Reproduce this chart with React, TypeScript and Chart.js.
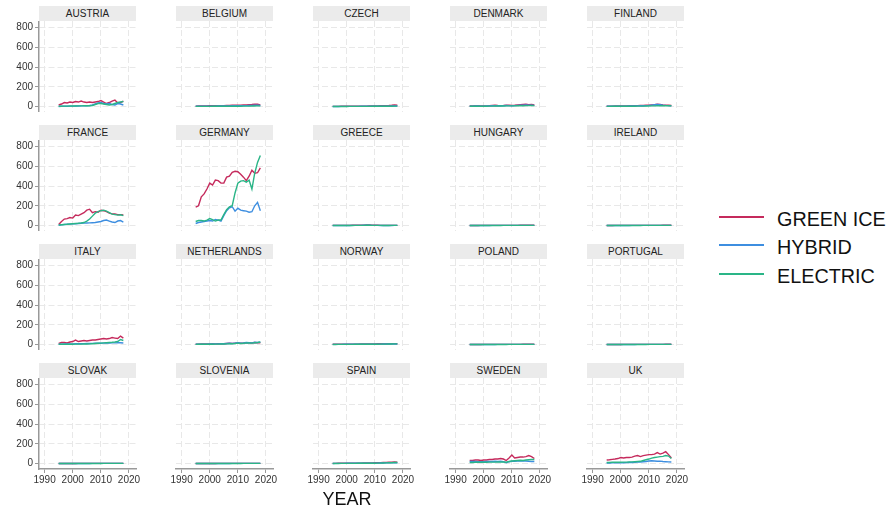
import React, { useEffect, useRef } from "react";
import { Chart, registerables } from "chart.js";

Chart.register(...registerables);

// ---------- data ----------
const YEARS = [1995, 1996, 1997, 1998, 1999, 2000, 2001, 2002, 2003, 2004, 2005, 2006, 2007, 2008, 2009, 2010, 2011, 2012, 2013, 2014, 2015, 2016, 2017, 2018];
const X_TICKS = [1990, 2000, 2010, 2020];
const Y_TICKS = [0, 200, 400, 600, 800];
const SERIES_LABELS = ["GREEN ICE", "HYBRID", "ELECTRIC"];
const COUNTRIES = [
  "AUSTRIA", "BELGIUM", "CZECH", "DENMARK", "FINLAND",
  "FRANCE", "GERMANY", "GREECE", "HUNGARY", "IRELAND",
  "ITALY", "NETHERLANDS", "NORWAY", "POLAND", "PORTUGAL",
  "SLOVAK", "SLOVENIA", "SPAIN", "SWEDEN", "UK",
];

const AUSTRIA_ICE = [15, 25, 40, 35, 45, 40, 50, 45, 55, 45, 40, 45, 40, 45, 50, 60, 45, 30, 40, 55, 65, 35, 40, 55];
const AUSTRIA_HYB = [0, 2, 3, 3, 4, 4, 5, 5, 6, 6, 8, 10, 15, 25, 35, 40, 30, 25, 30, 20, 15, 30, 25, 15];
const AUSTRIA_ELE = [3, 3, 4, 4, 5, 5, 5, 6, 6, 7, 7, 8, 10, 20, 30, 30, 25, 20, 15, 20, 30, 40, 45, 50];

const BELGIUM_ICE = [4, 5, 5, 6, 6, 7, 7, 8, 8, 9, 9, 10, 11, 12, 12, 13, 14, 15, 16, 18, 20, 24, 22, 16];
const BELGIUM_HYB = [2, 2, 3, 3, 3, 4, 4, 4, 5, 5, 5, 6, 6, 7, 7, 8, 8, 9, 9, 10, 11, 12, 12, 10];
const BELGIUM_ELE = [1, 1, 1, 1, 1, 1, 2, 2, 2, 2, 2, 2, 3, 3, 3, 3, 3, 4, 4, 4, 5, 5, 6, 6];

const CZECH_ICE = [1, 1, 1, 2, 2, 2, 2, 3, 3, 3, 3, 4, 4, 5, 5, 6, 6, 7, 8, 9, 10, 12, 15, 13];
const CZECH_HYB = [0, 0, 0, 1, 1, 1, 1, 1, 1, 1, 2, 2, 2, 2, 2, 3, 3, 3, 3, 4, 4, 5, 6, 5];
const CZECH_ELE = [0, 0, 0, 0, 0, 0, 1, 1, 1, 1, 1, 1, 1, 1, 2, 2, 2, 2, 2, 3, 3, 3, 4, 4];

const DENMARK_ICE = [5, 6, 8, 7, 6, 5, 6, 8, 10, 12, 10, 9, 11, 14, 12, 10, 12, 15, 18, 20, 22, 18, 20, 15];
const DENMARK_HYB = [3, 4, 5, 5, 4, 4, 5, 6, 7, 8, 7, 7, 8, 10, 9, 8, 9, 11, 13, 14, 15, 13, 14, 11];
const DENMARK_ELE = [2, 2, 3, 3, 3, 3, 3, 4, 4, 5, 5, 5, 5, 6, 6, 6, 6, 7, 8, 8, 9, 9, 10, 9];

const FINLAND_ICE = [3, 4, 4, 5, 5, 5, 6, 6, 7, 8, 8, 9, 10, 10, 12, 14, 16, 18, 22, 20, 16, 14, 12, 10];
const FINLAND_HYB = [2, 2, 3, 3, 3, 4, 4, 4, 5, 5, 6, 6, 7, 8, 9, 11, 14, 17, 20, 18, 14, 11, 9, 8];
const FINLAND_ELE = [1, 1, 2, 2, 2, 2, 2, 3, 3, 3, 3, 4, 4, 4, 5, 5, 6, 6, 7, 7, 7, 7, 8, 8];

const FRANCE_ICE = [10, 40, 65, 70, 80, 75, 105, 100, 115, 130, 155, 165, 130, 140, 135, 155, 150, 140, 125, 118, 118, 110, 110, 108];
const FRANCE_HYB = [3, 6, 10, 12, 14, 16, 18, 20, 22, 24, 25, 26, 28, 30, 35, 40, 50, 55, 45, 35, 30, 45, 50, 35];
const FRANCE_ELE = [5, 8, 10, 12, 15, 18, 20, 22, 25, 30, 45, 65, 95, 125, 140, 150, 155, 145, 130, 115, 110, 105, 108, 100];

const GERMANY_ICE = [185, 200, 290, 320, 370, 430, 410, 460, 455, 430, 430, 490, 500, 540, 550, 545, 520, 490, 455, 500, 560, 530, 535, 585];
const GERMANY_HYB = [20, 30, 35, 40, 45, 50, 45, 60, 55, 45, 100, 150, 180, 190, 145, 175, 155, 150, 145, 135, 140, 200, 235, 150];
const GERMANY_ELE = [40, 50, 50, 45, 55, 70, 60, 45, 55, 55, 110, 160, 190, 200, 330, 430, 450, 455, 440, 460, 370, 530, 640, 710];

const GREECE_ICE = [1, 1, 1, 1, 1, 1, 1, 2, 2, 2, 3, 4, 6, 5, 3, 2, 2, 1, 1, 1, 1, 1, 1, 1];
const GREECE_HYB = [0, 0, 0, 0, 0, 0, 0, 1, 1, 1, 1, 2, 3, 2, 1, 1, 1, 0, 0, 0, 0, 0, 1, 1];
const GREECE_ELE = [0, 0, 0, 0, 0, 0, 0, 0, 1, 1, 1, 1, 2, 2, 1, 1, 1, 1, 0, 0, 0, 1, 1, 1];

const HUNGARY_ICE = [0, 0, 0, 0, 1, 1, 1, 1, 1, 1, 1, 1, 1, 1, 1, 1, 1, 1, 2, 2, 2, 2, 2, 2];
const HUNGARY_HYB = [0, 0, 0, 0, 0, 0, 0, 0, 1, 1, 1, 1, 1, 1, 1, 1, 1, 1, 1, 1, 1, 1, 1, 1];
const HUNGARY_ELE = [0, 0, 0, 0, 0, 0, 0, 0, 0, 0, 0, 0, 1, 1, 1, 1, 1, 1, 1, 1, 1, 1, 1, 1];

const IRELAND_ICE = [0, 0, 0, 1, 1, 1, 1, 1, 1, 1, 1, 1, 1, 1, 1, 1, 1, 1, 1, 1, 2, 2, 2, 2];
const IRELAND_HYB = [0, 0, 0, 0, 0, 0, 0, 0, 0, 1, 1, 1, 1, 1, 1, 1, 1, 1, 1, 1, 1, 1, 1, 1];
const IRELAND_ELE = [0, 0, 0, 0, 0, 0, 0, 0, 0, 0, 0, 0, 0, 1, 1, 1, 1, 1, 1, 1, 1, 1, 1, 1];

const ITALY_ICE = [10, 20, 20, 15, 25, 30, 45, 30, 35, 40, 35, 40, 45, 45, 50, 55, 60, 55, 60, 70, 65, 60, 85, 65];
const ITALY_HYB = [3, 4, 5, 5, 6, 6, 7, 8, 8, 9, 10, 10, 11, 12, 12, 13, 14, 15, 15, 16, 16, 17, 18, 15];
const ITALY_ELE = [2, 2, 2, 3, 3, 3, 4, 4, 4, 5, 5, 6, 8, 10, 12, 14, 16, 18, 20, 22, 25, 30, 50, 40];

const NETHERLANDS_ICE = [3, 4, 5, 6, 5, 6, 7, 6, 8, 9, 8, 10, 12, 11, 13, 15, 12, 14, 18, 16, 15, 20, 17, 18];
const NETHERLANDS_HYB = [2, 3, 3, 4, 4, 5, 5, 6, 6, 7, 8, 10, 12, 10, 14, 18, 12, 15, 20, 18, 16, 22, 20, 24];
const NETHERLANDS_ELE = [1, 2, 2, 2, 3, 3, 3, 4, 4, 5, 5, 6, 8, 8, 10, 14, 10, 12, 16, 15, 14, 18, 20, 25];

const NORWAY_ICE = [2, 2, 2, 3, 3, 3, 3, 4, 4, 4, 5, 5, 5, 6, 6, 6, 7, 7, 8, 8, 8, 9, 9, 8];
const NORWAY_HYB = [1, 1, 1, 1, 2, 2, 2, 2, 2, 3, 3, 3, 3, 3, 4, 4, 4, 4, 5, 5, 5, 5, 6, 5];
const NORWAY_ELE = [0, 0, 1, 1, 1, 1, 1, 1, 2, 2, 2, 2, 2, 3, 3, 3, 3, 4, 4, 4, 5, 5, 6, 6];

const POLAND_ICE = [0, 0, 0, 0, 0, 1, 1, 1, 1, 1, 1, 1, 1, 1, 1, 1, 1, 1, 1, 2, 2, 2, 2, 2];
const POLAND_HYB = [0, 0, 0, 0, 0, 0, 0, 0, 0, 0, 1, 1, 1, 1, 1, 1, 1, 1, 1, 1, 1, 1, 1, 1];
const POLAND_ELE = [0, 0, 0, 0, 0, 0, 0, 0, 0, 0, 0, 0, 0, 0, 1, 1, 1, 1, 1, 1, 1, 1, 1, 1];

const PORTUGAL_ICE = [0, 0, 0, 0, 0, 0, 1, 1, 1, 1, 1, 1, 1, 1, 1, 1, 1, 1, 1, 1, 1, 2, 2, 2];
const PORTUGAL_HYB = [0, 0, 0, 0, 0, 0, 0, 0, 0, 0, 0, 1, 1, 1, 1, 1, 1, 1, 1, 1, 1, 1, 1, 1];
const PORTUGAL_ELE = [0, 0, 0, 0, 0, 0, 0, 0, 0, 0, 0, 0, 0, 0, 0, 1, 1, 1, 1, 1, 1, 1, 1, 1];

const SLOVAK_ICE = [0, 0, 0, 0, 0, 0, 0, 1, 1, 1, 1, 1, 1, 1, 1, 1, 1, 1, 1, 1, 1, 1, 1, 1];
const SLOVAK_HYB = [0, 0, 0, 0, 0, 0, 0, 0, 0, 0, 0, 0, 1, 1, 1, 1, 1, 1, 1, 1, 1, 1, 1, 1];
const SLOVAK_ELE = [0, 0, 0, 0, 0, 0, 0, 0, 0, 0, 0, 0, 0, 0, 0, 0, 1, 1, 1, 1, 1, 1, 1, 1];

const SLOVENIA_ICE = [0, 0, 0, 0, 0, 0, 0, 0, 1, 1, 1, 1, 1, 1, 1, 1, 1, 1, 1, 1, 1, 1, 1, 1];
const SLOVENIA_HYB = [0, 0, 0, 0, 0, 0, 0, 0, 0, 0, 0, 0, 0, 1, 1, 1, 1, 1, 1, 1, 1, 1, 1, 1];
const SLOVENIA_ELE = [0, 0, 0, 0, 0, 0, 0, 0, 0, 0, 0, 0, 0, 0, 0, 0, 0, 1, 1, 1, 1, 1, 1, 1];

const SPAIN_ICE = [1, 1, 2, 2, 2, 3, 3, 3, 4, 4, 4, 5, 5, 6, 6, 7, 8, 9, 10, 11, 12, 13, 15, 14];
const SPAIN_HYB = [0, 1, 1, 1, 1, 2, 2, 2, 2, 2, 3, 3, 3, 3, 4, 4, 4, 5, 5, 6, 6, 7, 8, 7];
const SPAIN_ELE = [0, 0, 0, 1, 1, 1, 1, 1, 1, 2, 2, 2, 2, 3, 3, 3, 4, 4, 5, 6, 7, 8, 10, 10];

const SWEDEN_ICE = [30, 30, 35, 35, 30, 35, 35, 40, 40, 45, 45, 50, 45, 30, 55, 85, 55, 60, 65, 65, 70, 80, 70, 50];
const SWEDEN_HYB = [20, 20, 20, 18, 18, 18, 20, 20, 20, 22, 20, 22, 18, 8, 18, 22, 22, 25, 25, 28, 25, 22, 20, 20];
const SWEDEN_ELE = [10, 10, 12, 12, 12, 12, 12, 14, 14, 14, 15, 16, 15, 12, 20, 25, 28, 30, 32, 30, 35, 38, 40, 40];

const UK_ICE = [35, 38, 42, 45, 50, 60, 55, 60, 60, 65, 75, 80, 70, 80, 85, 90, 90, 95, 110, 95, 105, 120, 90, 55];
const UK_HYB = [5, 5, 6, 6, 7, 8, 8, 9, 10, 10, 12, 14, 15, 18, 20, 25, 28, 25, 22, 24, 20, 18, 16, 15];
const UK_ELE = [10, 10, 12, 12, 12, 12, 14, 14, 15, 16, 18, 20, 22, 30, 38, 45, 55, 60, 65, 70, 72, 80, 75, 50];

const PANEL_SERIES: Record<string, number[][]> = {
  AUSTRIA: [AUSTRIA_ICE, AUSTRIA_HYB, AUSTRIA_ELE],
  BELGIUM: [BELGIUM_ICE, BELGIUM_HYB, BELGIUM_ELE],
  CZECH: [CZECH_ICE, CZECH_HYB, CZECH_ELE],
  DENMARK: [DENMARK_ICE, DENMARK_HYB, DENMARK_ELE],
  FINLAND: [FINLAND_ICE, FINLAND_HYB, FINLAND_ELE],
  FRANCE: [FRANCE_ICE, FRANCE_HYB, FRANCE_ELE],
  GERMANY: [GERMANY_ICE, GERMANY_HYB, GERMANY_ELE],
  GREECE: [GREECE_ICE, GREECE_HYB, GREECE_ELE],
  HUNGARY: [HUNGARY_ICE, HUNGARY_HYB, HUNGARY_ELE],
  IRELAND: [IRELAND_ICE, IRELAND_HYB, IRELAND_ELE],
  ITALY: [ITALY_ICE, ITALY_HYB, ITALY_ELE],
  NETHERLANDS: [NETHERLANDS_ICE, NETHERLANDS_HYB, NETHERLANDS_ELE],
  NORWAY: [NORWAY_ICE, NORWAY_HYB, NORWAY_ELE],
  POLAND: [POLAND_ICE, POLAND_HYB, POLAND_ELE],
  PORTUGAL: [PORTUGAL_ICE, PORTUGAL_HYB, PORTUGAL_ELE],
  SLOVAK: [SLOVAK_ICE, SLOVAK_HYB, SLOVAK_ELE],
  SLOVENIA: [SLOVENIA_ICE, SLOVENIA_HYB, SLOVENIA_ELE],
  SPAIN: [SPAIN_ICE, SPAIN_HYB, SPAIN_ELE],
  SWEDEN: [SWEDEN_ICE, SWEDEN_HYB, SWEDEN_ELE],
  UK: [UK_ICE, UK_HYB, UK_ELE],
};

// ---------- style ----------
const COLORS = ["#c52a5c", "#3d8ee0", "#2ab587"];
const GRID_COLOR = "#e8e8e8";
const AXIS_COLOR = "#999999";
const FONT_FAMILY = '"Liberation Sans", Arial, Helvetica, sans-serif';
const NCOLS = 5;
const NROWS = 4;
const PLOT_X0 = 39;
const COL_STEP = 137;
const PLOT_Y0 = 21;
const ROW_STEP = 119;
const PLOT_W = 97;
const PLOT_H = 91;
const STRIP_H = 15;

function Panel({ name, row, col }: { name: string; row: number; col: number }) {
  const ref = useRef<HTMLCanvasElement>(null);
  const isLeft = col === 0;
  const isBottom = row === NROWS - 1;
  const plotLeft = PLOT_X0 + col * COL_STEP;
  const plotTop = PLOT_Y0 + row * ROW_STEP;
  const axisW = isLeft ? 39 : 0;
  const padL = !isLeft && isBottom ? 12 : 0;
  const padR = isBottom ? 14 : 2;
  const axisH = isBottom ? 22 : 0;
  const cLeft = plotLeft - axisW - padL;
  const cWidth = padL + axisW + PLOT_W + padR;
  const cHeight = PLOT_H + axisH;

  useEffect(() => {
    if (!ref.current) return;
    const series = PANEL_SERIES[name];
    const font = { family: FONT_FAMILY, size: 10 };
    const chart = new Chart(ref.current, {
      type: "line",
      data: {
        datasets: series.map((vals, k) => ({
          label: SERIES_LABELS[k],
          data: YEARS.map((yr, i) => ({ x: yr, y: vals[i] })),
          borderColor: COLORS[k],
          backgroundColor: COLORS[k],
          borderWidth: 1.4,
          pointRadius: 0,
          tension: 0,
          fill: false,
          order: 3 - k,
        })),
      },
      options: {
        responsive: false,
        maintainAspectRatio: false,
        animation: false,
        events: [],
        layout: { padding: { left: padL, right: padR, top: 0, bottom: 0 } },
        plugins: {
          legend: { display: false },
          tooltip: { enabled: false },
          title: { display: false },
        },
        scales: {
          x: {
            type: "linear",
            min: 1988,
            max: 2022.5,
            afterBuildTicks: (s: any) => {
              s.ticks = X_TICKS.map((v) => ({ value: v }));
            },
            afterFit: (s: any) => {
              s.height = axisH;
              s.paddingLeft = 0;
              s.paddingRight = 0;
            },
            grid: {
              color: GRID_COLOR,
              lineWidth: 1,
              drawTicks: isBottom,
              tickLength: 4,
              tickColor: AXIS_COLOR,
              tickWidth: 1,
            },
            border: { display: isBottom, color: AXIS_COLOR, width: 1.5, dash: [6, 3] },
            ticks: {
              display: isBottom,
              font,
              color: "#333",
              padding: 1,
              maxRotation: 0,
              autoSkip: false,
              callback: (v: any) => String(v),
            },
          },
          y: {
            type: "linear",
            position: "left",
            min: -56,
            max: 867,
            afterBuildTicks: (s: any) => {
              s.ticks = Y_TICKS.map((v) => ({ value: v }));
            },
            afterFit: (s: any) => {
              s.width = axisW;
              s.paddingTop = 0;
              s.paddingBottom = 0;
            },
            grid: {
              color: GRID_COLOR,
              lineWidth: 1,
              drawTicks: isLeft,
              tickLength: 4,
              tickColor: AXIS_COLOR,
              tickWidth: 1,
            },
            border: { display: isLeft, color: AXIS_COLOR, width: 1.5, dash: [6, 3] },
            ticks: {
              display: isLeft,
              font,
              color: "#333",
              padding: 2,
              autoSkip: false,
              callback: (v: any) => String(v),
            },
          },
        },
      } as any,
    });
    return () => chart.destroy();
  }, [name, row, col]);

  return (
    <>
      <div
        style={{
          position: "absolute",
          left: plotLeft,
          top: plotTop - STRIP_H,
          width: PLOT_W,
          height: STRIP_H,
          background: "#ebebeb",
          color: "#222",
          font: `10px ${FONT_FAMILY}`,
          lineHeight: `${STRIP_H}px`,
          textAlign: "center",
          whiteSpace: "nowrap",
        }}
      >
        {name}
      </div>
      <canvas
        ref={ref}
        width={cWidth}
        height={cHeight}
        style={{ position: "absolute", left: cLeft, top: plotTop, width: cWidth, height: cHeight }}
      />
    </>
  );
}

export default function App() {
  return (
    <div
      style={{
        position: "absolute",
        left: 0,
        top: 0,
        width: 888,
        height: 511,
        background: "#ffffff",
        overflow: "hidden",
        fontFamily: FONT_FAMILY,
      }}
    >
      {COUNTRIES.map((c, i) => (
        <Panel key={c} name={c} row={Math.floor(i / NCOLS)} col={i % NCOLS} />
      ))}
      <div
        style={{
          position: "absolute",
          left: 297,
          top: 488,
          width: 100,
          textAlign: "center",
          font: `18px ${FONT_FAMILY}`,
          color: "#111",
          lineHeight: "22px",
        }}
      >
        YEAR
      </div>
      {SERIES_LABELS.map((lab, k) => (
        <React.Fragment key={lab}>
          <div
            style={{
              position: "absolute",
              left: 719,
              top: 216 + k * 28.3,
              width: 45,
              height: 2,
              background: COLORS[k],
            }}
          />
          <div
            style={{
              position: "absolute",
              left: 777,
              top: 207 + k * 28.3,
              font: `19.8px ${FONT_FAMILY}`,
              lineHeight: "24px",
              color: "#111",
              whiteSpace: "nowrap",
            }}
          >
            {lab}
          </div>
        </React.Fragment>
      ))}
    </div>
  );
}
